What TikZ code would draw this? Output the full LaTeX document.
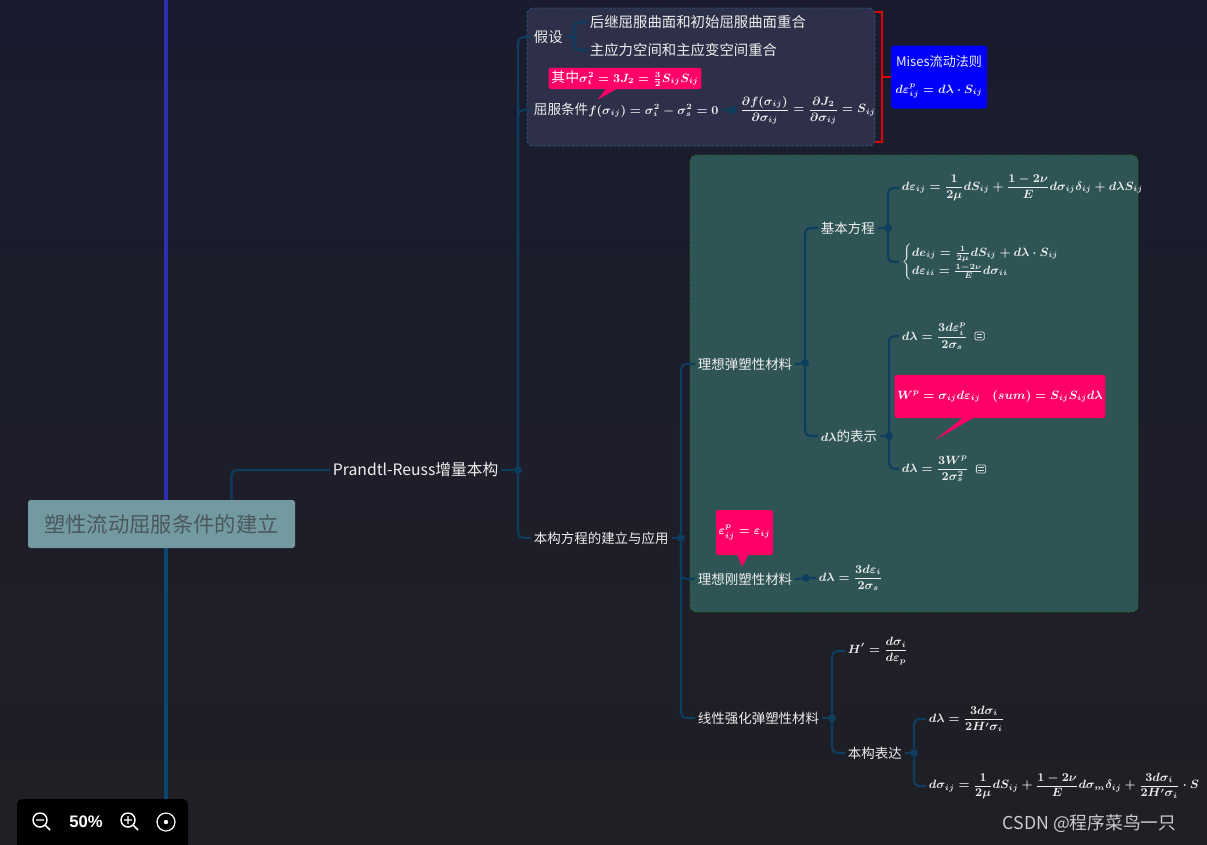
\documentclass[tikz,border=0pt]{standalone}
\usepackage[no-math]{fontspec}
\setmainfont{Noto Sans CJK SC}
\newfontfamily\uisans{Liberation Sans}
\usepackage{amsmath}
\usepackage{tikz}
\usetikzlibrary{positioning, calc, shapes.callouts}

\definecolor{bgtop}{RGB}{26,27,46}
\definecolor{bgbot}{RGB}{31,32,37}
\definecolor{linkblue}{RGB}{13,62,96}
\definecolor{rootfill}{RGB}{115,154,160}
\definecolor{roottext}{RGB}{74,88,92}
\definecolor{groupfill}{RGB}{46,47,72}
\definecolor{groupline}{RGB}{40,94,142}
\definecolor{greenfill}{RGB}{47,84,85}
\definecolor{greenline}{RGB}{26,112,32}
\definecolor{hotpink}{RGB}{255,0,102}
\definecolor{axistop}{RGB}{46,46,176}
\definecolor{axisbot}{RGB}{8,72,112}
\definecolor{softwhite}{RGB}{238,238,238}
\definecolor{misesblue}{RGB}{0,0,250}

% smaller math inside mixed labels
\newcommand{\mth}[1]{{\fontsize{9}{11}\selectfont$#1$}}

\begin{document}
\begin{tikzpicture}[x=0.75pt, y=-0.75pt,
    lbl/.style={anchor=west, text=softwhite, inner sep=2pt, font=\fontsize{10.1}{12}\selectfont\boldmath},
    lblA/.style={lbl, font=\fontsize{10.8}{13}\selectfont\boldmath},
    eq/.style={lbl, font=\fontsize{9}{11}\selectfont\boldmath},
    link/.style={draw=linkblue, line width=1.6pt, rounded corners=4pt},
    hub/.style={circle, fill=linkblue, inner sep=0pt, minimum size=6pt},
    frame/.style={rectangle, rounded corners=5pt, dash pattern=on 2pt off 1.5pt, line width=0.6pt},
    tip/.style={rectangle callout, fill=hotpink, text=white, rounded corners=1.5pt, inner sep=2pt, callout pointer width=8pt, font=\fontsize{10.4}{12}\selectfont\boldmath},
    note/.style={draw=softwhite!85!gray, rounded corners=1pt, line width=0.6pt, minimum width=7pt, minimum height=6pt, inner sep=0pt,
        path picture={\draw[softwhite!85!gray, line width=0.5pt] ([xshift=1.5pt,yshift=-2pt]path picture bounding box.north west) -- ++(4pt,0) ([xshift=1.5pt,yshift=-4pt]path picture bounding box.north west) -- ++(4pt,0);}}
    ]
    % background
    \useasboundingbox (0,0) rectangle (1207,844);
    \shade[top color=bgtop, bottom color=bgbot] (0,0) rectangle (1207,844);

    % axis behind the root
    \coordinate (AxTop) at (166,0);
    \coordinate (AxMid) at (166,524);
    \coordinate (AxBot) at (166,800);
    \draw[axistop, line width=2.4pt] (AxTop) -- (AxMid);
    \draw[axisbot, line width=2.4pt] (AxMid) -- (AxBot);

    % Frames
    \node (FrameA) [frame, draw=groupline, fill=groupfill, minimum width=261pt, minimum height=103.5pt] at (701,77) {};
    \node (FrameB) [frame, draw=greenline, fill=greenfill, minimum width=336pt, minimum height=342.75pt] at (914,383.5) {};

    % Nodes
    \node (Root) [rectangle, fill=rootfill, rounded corners=2pt, minimum width=200.25pt, minimum height=36pt, text=roottext, font=\fontsize{16}{19}\selectfont] at (161.5,524) {塑性流动屈服条件的建立};
    \node (Prandtl) [lbl, font=\fontsize{11.8}{14}\selectfont] at (330,470) {Prandtl-Reuss增量本构};
    \node (PrHub) [hub] at (518,470) {};

    \node (Assume) [lblA] at (531,37) {假设};
    \node (AsHub) [hub, minimum size=4pt] at (574,37) {};
    \node (AssumeOne) [lblA] at (587,22) {后继屈服曲面和初始屈服曲面重合};
    \node (AssumeTwo) [lblA] at (587,50) {主应力空间和主应变空间重合};
    \node (Yield) [lbl, font=\fontsize{10.2}{12}\selectfont\boldmath] at (531,110) {屈服条件{\fontsize{8.8}{11}\selectfont$f(\sigma_{ij})=\sigma_i^2-\sigma_s^2=0$}};
    \node (YdHub) [hub, right=5pt of Yield] {};
    \node (Deriv) [eq] at (737,110) {$\displaystyle\frac{\partial f(\sigma_{ij})}{\partial\sigma_{ij}}=\frac{\partial J_2}{\partial\sigma_{ij}}=S_{ij}$};
    \node (TipSigma) [tip, minimum width=109.5pt, minimum height=15.75pt, callout absolute pointer={(597,100)}] at (625,78.5) {其中\mth{\sigma_i^2=3J_2=\frac{3}{2}S_{ij}S_{ij}}};

    \node (Mises) [rectangle, fill=misesblue, rounded corners=2pt, inner sep=1pt, minimum width=72pt, minimum height=47.25pt, align=center, text=softwhite, font=\fontsize{9.8}{20}\selectfont\boldmath] at (939,77) {Mises流动法则\\\mth{d\varepsilon_{ij}^p=d\lambda\cdot S_{ij}}};

    \node (Build) [lbl] at (531,538) {本构方程的建立与应用};
    \node (BdHub) [hub] at (681,538) {};

    \node (Elastic) [lbl] at (695,364) {理想弹塑性材料};
    \node (ElHub) [hub] at (805,363) {};
    \node (Basic) [lbl] at (818,228) {基本方程};
    \node (BaHub) [hub] at (888,228) {};
    \node (BasicOne) [eq] at (899,188) {$\displaystyle d\varepsilon_{ij}=\frac{1}{2\mu}dS_{ij}+\frac{1-2\nu}{E}d\sigma_{ij}\delta_{ij}+d\lambda S_{ij}$};
    \node (BasicTwo) [eq] at (899,262) {$\begin{cases}de_{ij}=\frac{1}{2\mu}dS_{ij}+d\lambda\cdot S_{ij}\\ d\varepsilon_{ii}=\frac{1-2\nu}{E}d\sigma_{ii}\end{cases}$};
    \node (Lambda) [lbl] at (818,436) {\mth{d\lambda}的表示};
    \node (LaHub) [hub] at (889,436) {};
    \node (LambdaOne) [eq] at (899,336) {$\displaystyle d\lambda=\frac{3d\varepsilon_i^p}{2\sigma_s}$};
    \node (NoteOne) [note, right=3pt of LambdaOne] {};
    \node (LambdaTwo) [eq] at (899,469) {$\displaystyle d\lambda=\frac{3W^p}{2\sigma_s^2}$};
    \node (NoteTwo) [note, right=3pt of LambdaTwo] {};
    \node (TipWork) [tip, minimum width=148.5pt, minimum height=32.25pt, callout absolute pointer={(935,440)}] at (1000,396.5) {\mth{W^p=\sigma_{ij}d\varepsilon_{ij}\quad(sum)=S_{ij}S_{ij}d\lambda}};

    \node (Rigid) [lbl] at (695,579) {理想刚塑性材料};
    \node (RiHub) [hub] at (806,578) {};
    \node (RigidOne) [eq] at (816,578) {$\displaystyle d\lambda=\frac{3d\varepsilon_i}{2\sigma_s}$};
    \node (TipStrain) [tip, minimum width=39.75pt, minimum height=33.75pt, callout absolute pointer={(742,567)}] at (744.5,532.5) {\mth{\varepsilon_{ij}^p=\varepsilon_{ij}}};

    \node (Linear) [lbl] at (695,718) {线性强化弹塑性材料};
    \node (LiHub) [hub] at (832,718) {};
    \node (Modulus) [eq] at (845,651) {$\displaystyle H'=\frac{d\sigma_i}{d\varepsilon_p}$};
    \node (Express) [lbl] at (845,753) {本构表达};
    \node (ExHub) [hub] at (914,753) {};
    \node (ExpressOne) [eq] at (926,719) {$\displaystyle d\lambda=\frac{3d\sigma_i}{2H'\sigma_i}$};
    \node (ExpressTwo) [eq] at (926,786) {$\displaystyle d\sigma_{ij}=\frac{1}{2\mu}dS_{ij}+\frac{1-2\nu}{E}d\sigma_m\delta_{ij}+\frac{3d\sigma_i}{2H'\sigma_i}\cdot S$};

    % Edges
    \draw[link] ($(Root.north)+(70,0)$) |- (Prandtl.west);
    \draw[link] (Prandtl.east) -- (PrHub);
    \draw[link] (PrHub) |- (Assume.west);
    \draw[link] (PrHub) |- (Yield.west);
    \draw[link] (PrHub) |- (Build.west);
    \draw[link] (Assume.east) -- (AsHub);
    \draw[link] (AsHub) |- (AssumeOne.west);
    \draw[link] (AsHub) |- (AssumeTwo.west);
    \draw[link] (Yield.east) -- (YdHub) -- (Deriv.west);
    \draw[link] (Build.east) -- (BdHub);
    \draw[link] (BdHub) |- (Elastic.west);
    \draw[link] (BdHub) |- (Rigid.west);
    \draw[link] (BdHub) |- (Linear.west);
    \draw[link] (Elastic.east) -- (ElHub);
    \draw[link] (ElHub) |- (Basic.west);
    \draw[link] (ElHub) |- (Lambda.west);
    \draw[link] (Basic.east) -- (BaHub);
    \draw[link] (BaHub) |- (BasicOne.west);
    \draw[link] (BaHub) |- (BasicTwo.west);
    \draw[link] (Lambda.east) -- (LaHub);
    \draw[link] (LaHub) |- (LambdaOne.west);
    \draw[link] (LaHub) |- (LambdaTwo.west);
    \draw[link] (Rigid.east) -- (RiHub) -- (RigidOne.west);
    \draw[link] (Linear.east) -- (LiHub);
    \draw[link] (LiHub) |- (Modulus.west);
    \draw[link] (LiHub) |- (Express.west);
    \draw[link] (Express.east) -- (ExHub);
    \draw[link] (ExHub) |- (ExpressOne.west);
    \draw[link] (ExHub) |- (ExpressTwo.west);

    % summary bracket
    \draw[red!90!black, line width=1.5pt] ([yshift=-3pt]FrameA.north east) -| ([xshift=5pt]FrameA.east) |- ([yshift=3pt]FrameA.south east);
    \draw[red!90!black, line width=1.5pt] ([xshift=5pt]FrameA.east) -- (Mises.west);

    % zoom bar
    \node (ZoomBar) [fill=black, rounded corners=4pt, minimum width=128.25pt, minimum height=42pt] at (102.5,827) {};
    \draw[white, line width=1.1pt] (40,820) circle[radius=7] (45,825) -- (50,830) (36,820) -- (44,820);
    \node (ZoomPct) [text=white, font=\uisans\bfseries\fontsize{12.5}{14}\selectfont] at (86,822) {50\%};
    \draw[white, line width=1.1pt] (128,820) circle[radius=7] (133,825) -- (138,830) (124,820) -- (132,820) (128,816) -- (128,824);
    \draw[white, line width=0.9pt] (166,822) circle[radius=9];
    \fill[white] (166,822) circle[radius=2.2];

    % watermark
    \node (Mark) [anchor=west, text=white!60!gray, font=\fontsize{13.3}{16}\selectfont] at (998,824) {CSDN @程序菜鸟一只};
\end{tikzpicture}
\end{document}
